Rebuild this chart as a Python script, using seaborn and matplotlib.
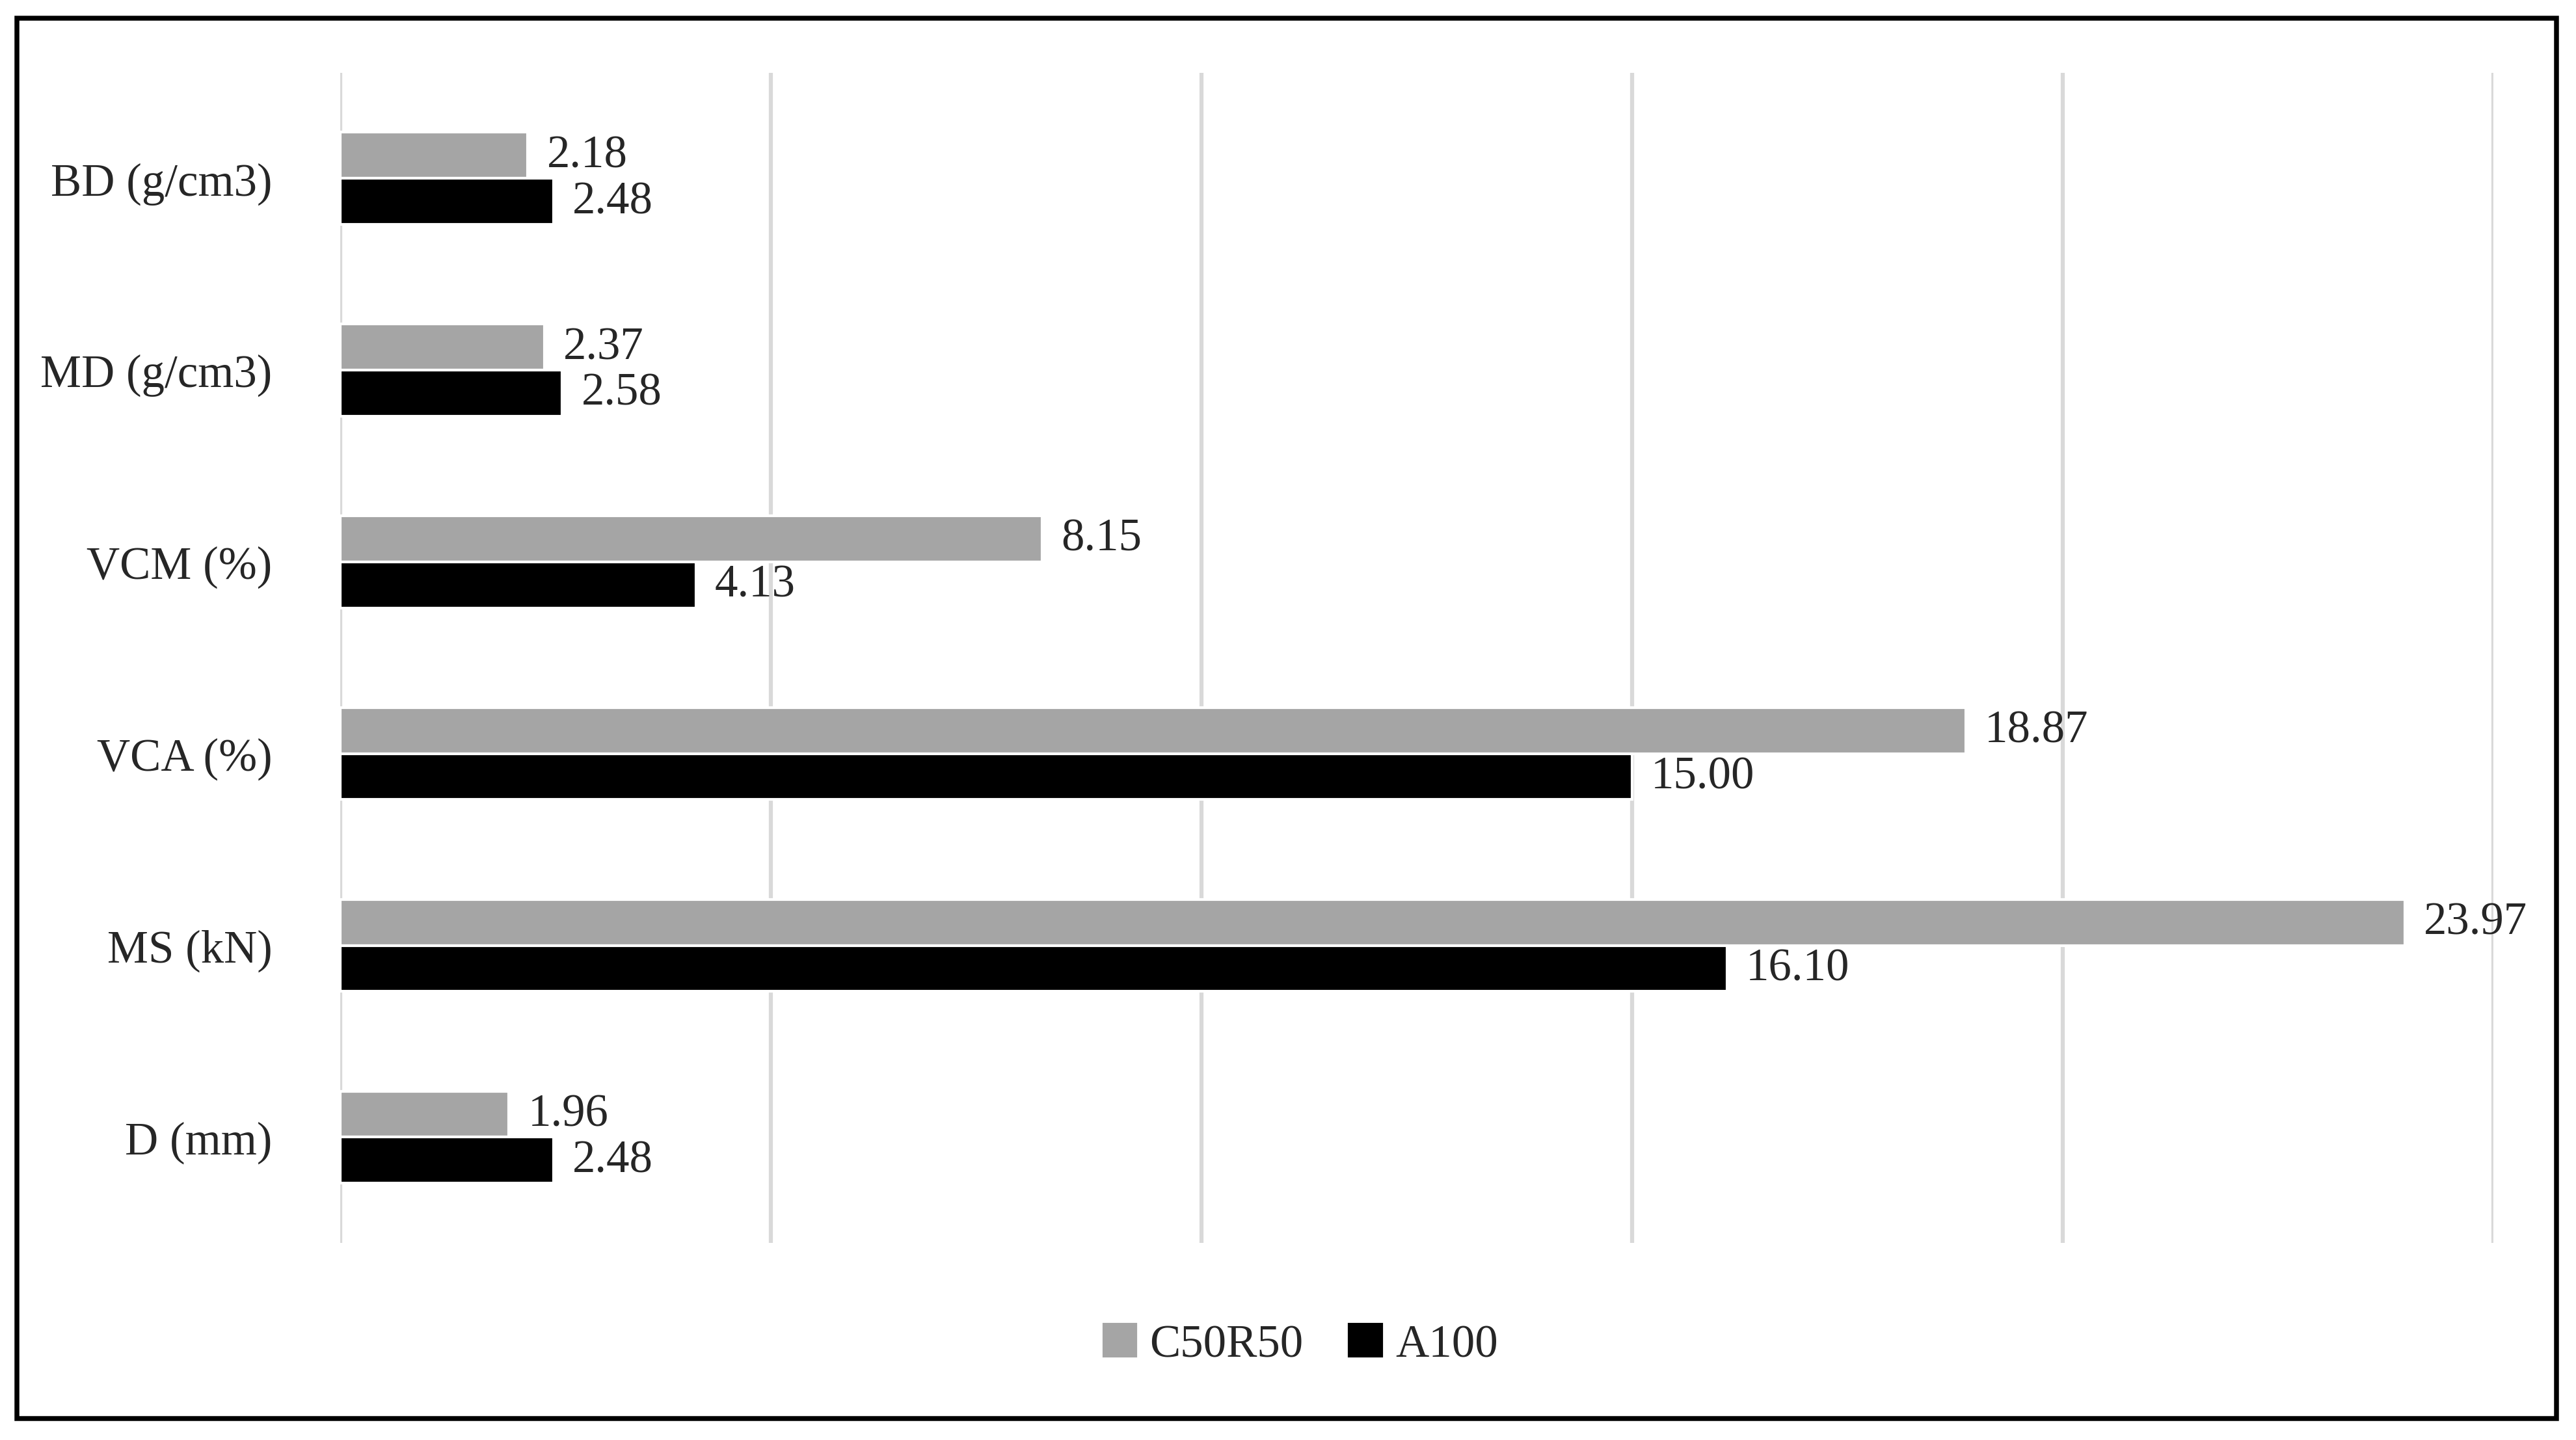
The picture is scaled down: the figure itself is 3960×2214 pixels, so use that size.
import matplotlib
matplotlib.use("Agg")
import matplotlib.pyplot as plt
import seaborn as sns
import pandas as pd
from matplotlib.patches import Rectangle

categories = ["BD (g/cm3)", "MD (g/cm3)", "VCM (%)", "VCA (%)", "MS (kN)", "D (mm)"]
c50r50 = [2.18, 2.37, 8.15, 18.87, 23.97, 1.96]
a100 = [2.48, 2.58, 4.13, 15.00, 16.10, 2.48]
series = ["C50R50", "A100"]

df = pd.DataFrame({
    "cat": categories * 2,
    "val": c50r50 + a100,
    "mix": [series[0]] * len(categories) + [series[1]] * len(categories),
})

sns.set_theme(style="white")
plt.rcParams["font.family"] = ["Liberation Serif", "DejaVu Serif"]

fig = plt.figure(figsize=(13.2, 7.3833), dpi=300)
ax = fig.add_axes([0.132, 0.137, 0.836, 0.812])

sns.barplot(data=df, y="cat", x="val", hue="mix", order=categories,
            hue_order=series, palette=["#a5a5a5", "#000000"],
            width=0.48, orient="h", ax=ax, saturation=1, legend=False)

for cont in ax.containers:
    ax.bar_label(cont, fmt="%.2f", padding=7, fontsize=17)

ax.set_xlim(0, 25)
ax.set_xticks([0, 5, 10, 15, 20, 25])
ax.set_xticklabels([])
ax.tick_params(axis="y", labelsize=17, length=0, pad=25)
ax.tick_params(axis="x", length=0)
ax.xaxis.grid(True, color="#d9d9d9", linewidth=1.5)
ax.set_axisbelow(True)
for s in ax.spines.values():
    s.set_visible(False)
ax.set_xlabel("")
ax.set_ylabel("")
ax.set_ylim(5.55, -0.55)

handles = [Rectangle((0, 0), 1, 1, color="#a5a5a5"), Rectangle((0, 0), 1, 1, color="#000000")]
fig.legend(handles, series, loc="center", bbox_to_anchor=(0.505, 0.066), ncol=2,
           frameon=False, fontsize=17, handlelength=0.7, handleheight=0.7,
           handletextpad=0.3, columnspacing=1.0)

fig.patches.append(Rectangle((0.0065, 0.015), 0.986, 0.972, transform=fig.transFigure,
                             fill=False, edgecolor="black", linewidth=1.8))

fig.savefig("out.png", dpi=300)
